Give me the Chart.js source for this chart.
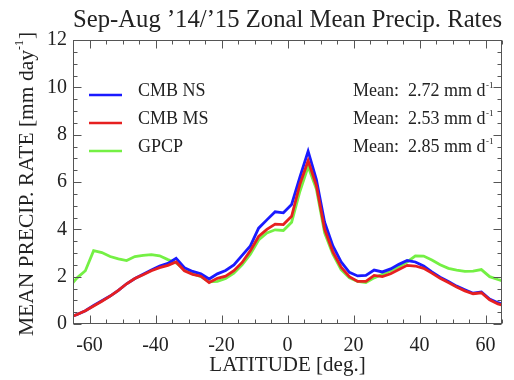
<!DOCTYPE html>
<html>
<head>
<meta charset="utf-8">
<script src="https://cdn.jsdelivr.net/npm/chart.js@4"></script>
<style>
html,body{margin:0;padding:0;background:#fff;}
#wrap{width:514px;height:380px;}
</style>
</head>
<body>
<div id="wrap"><canvas id="c" width="514" height="380"></canvas></div>
<script>
// ---- data ----
const latitudes = [-66.25,-63.75,-61.25,-58.75,-56.25,-53.75,-51.25,-48.75,-46.25,-43.75,-41.25,-38.75,-36.25,-33.75,-31.25,-28.75,-26.25,-23.75,-21.25,-18.75,-16.25,-13.75,-11.25,-8.75,-6.25,-3.75,-1.25,1.25,3.75,6.25,8.75,11.25,13.75,16.25,18.75,21.25,23.75,26.25,28.75,31.25,33.75,36.25,38.75,41.25,43.75,46.25,48.75,51.25,53.75,56.25,58.75,61.25,63.75,66.25];
const cmbNS = [0.28,0.40,0.56,0.78,0.98,1.18,1.42,1.70,1.92,2.10,2.28,2.45,2.56,2.78,2.38,2.22,2.12,1.90,2.12,2.26,2.50,2.90,3.30,4.05,4.40,4.74,4.70,5.05,6.20,7.30,6.10,4.30,3.30,2.62,2.18,2.03,2.05,2.28,2.20,2.33,2.52,2.68,2.62,2.45,2.20,1.98,1.80,1.60,1.45,1.30,1.35,1.05,0.90,0.80];
const cmbMS = [0.28,0.40,0.56,0.76,0.96,1.18,1.42,1.70,1.92,2.08,2.25,2.38,2.48,2.62,2.25,2.10,2.02,1.75,1.93,2.02,2.25,2.60,3.10,3.70,4.00,4.22,4.20,4.55,5.90,6.90,5.85,4.00,3.05,2.40,2.00,1.80,1.80,2.05,2.00,2.12,2.30,2.48,2.45,2.35,2.15,1.93,1.75,1.56,1.40,1.28,1.32,1.02,0.85,0.75];
const gpcp = [1.55,1.95,2.25,3.10,3.02,2.85,2.75,2.68,2.85,2.90,2.93,2.88,2.72,2.58,2.30,2.12,2.00,1.78,1.80,1.92,2.15,2.50,2.95,3.55,3.85,3.98,3.95,4.30,5.60,6.65,5.70,3.85,2.95,2.30,1.95,1.80,1.75,1.95,2.10,2.25,2.42,2.62,2.88,2.87,2.70,2.50,2.35,2.28,2.22,2.23,2.30,2.00,1.88,1.78];
const seriesNames = ['CMB NS','CMB MS','GPCP'];
const seriesMeans = ['2.72','2.53','2.85'];
const xTicks = [-60,-40,-20,0,20,40,60];
const yTicks = [0,2,4,6,8,10,12];
const titleText = 'Sep-Aug \u201914/\u201915 Zonal Mean Precip. Rates';
const xTitle = 'LATITUDE [deg.]';
const yTitle = 'MEAN PRECIP. RATE [mm day';

const FONT = '"Liberation Serif","Times New Roman",serif';
const colors = ['#1a1aff','#e62020','#74f044'];
const TXT = '#222';

function pts(arr){ return latitudes.map((x,i)=>({x:x,y:arr[i]})); }

const framePlugin = {
  id:'frame',
  afterDraw(chart){
    const {ctx, chartArea:a, scales:{x,y}} = chart;
    ctx.save();
    ctx.strokeStyle = '#555';
    ctx.lineWidth = 1;
    const L = Math.round(a.left)+0.5, R = Math.round(a.right)-0.5, T = Math.round(a.top)+0.5, B = Math.round(a.bottom)-0.5;
    ctx.strokeRect(L, T, R-L, B-T);
    ctx.beginPath();
    for(let v=-65; v<=65; v+=5){
      const px = Math.round(x.getPixelForValue(v))+0.5;
      const len = (v%20===0)?8:4;
      ctx.moveTo(px,B); ctx.lineTo(px,B-len);
      ctx.moveTo(px,T); ctx.lineTo(px,T+len);
    }
    for(let v=0; v<=12; v+=0.5){
      const py = Math.round(y.getPixelForValue(v))+0.5;
      const len = (v%2===0)?8:4;
      ctx.moveTo(L,py); ctx.lineTo(L+len,py);
      ctx.moveTo(R,py); ctx.lineTo(R-len,py);
    }
    ctx.stroke();

    // legend + means
    ctx.fillStyle = TXT;
    ctx.textBaseline = 'alphabetic';
    const baselines = [96,124,152];
    for(let i=0;i<3;i++){
      const b = baselines[i];
      ctx.strokeStyle = colors[i];
      ctx.lineWidth = 2.5;
      ctx.beginPath(); ctx.moveTo(89,b-1); ctx.lineTo(122,b-1); ctx.stroke();
      ctx.font = '18px ' + FONT;
      ctx.textAlign = 'left';
      ctx.fillText(seriesNames[i], 138, b);
      let s = 'Mean:  ' + seriesMeans[i] + ' mm d';
      ctx.fillText(s, 353, b);
      const w = ctx.measureText(s).width;
      ctx.font = '9px ' + FONT;
      ctx.fillText('-1', 353 + w + 0.5, b - 8);
    }

    // y title rotated
    ctx.save();
    ctx.translate(33, 184);
    ctx.rotate(-Math.PI/2);
    ctx.font = '21.5px ' + FONT;
    const w1 = ctx.measureText(yTitle).width;
    ctx.font = '12px ' + FONT;
    const w2 = ctx.measureText('-1').width;
    ctx.font = '21.5px ' + FONT;
    const w3 = ctx.measureText(']').width;
    const tot = w1 + w2 + w3 + 1;
    let sx = -tot/2;
    ctx.textAlign = 'left';
    ctx.fillStyle = TXT;
    ctx.fillText(yTitle, sx, 0);
    ctx.font = '12px ' + FONT;
    ctx.fillText('-1', sx + w1, -10);
    ctx.font = '21.5px ' + FONT;
    ctx.fillText(']', sx + w1 + w2 + 1, 0);
    ctx.restore();
    ctx.restore();
  }
};

new Chart(document.getElementById('c'), {
  type:'line',
  data:{
    datasets:[
      {label:seriesNames[0], data:pts(cmbNS), borderColor:colors[0], borderWidth:2.8, pointRadius:0, tension:0, fill:false, order:1, clip:0},
      {label:seriesNames[1], data:pts(cmbMS), borderColor:colors[1], borderWidth:2.8, pointRadius:0, tension:0, fill:false, order:0, clip:0},
      {label:seriesNames[2], data:pts(gpcp), borderColor:colors[2], borderWidth:2.8, pointRadius:0, tension:0, fill:false, order:2, clip:0}
    ]
  },
  options:{
    responsive:false,
    animation:false,
    devicePixelRatio:1,
    layout:{padding:{left:0,right:12,top:0,bottom:0}},
    plugins:{
      legend:{display:false},
      tooltip:{enabled:false},
      title:{display:true, text:titleText, fullSize:false, color:TXT,
        font:{family:FONT, size:25.5, weight:'normal', lineHeight:1.2},
        padding:{top:5, bottom:4.4}}
    },
    scales:{
      x:{type:'linear', min:-65, max:65,
        grid:{display:false, drawTicks:false}, border:{display:false},
        afterBuildTicks(s){ s.ticks = xTicks.map(v=>({value:v})); },
        afterFit(s){ s.height = 56; },
        ticks:{color:TXT, padding:10, maxRotation:0, autoSkip:false, font:{family:FONT, size:20}},
        title:{display:true, text:xTitle, color:TXT, font:{family:FONT, size:21}, padding:{top:0,bottom:2}}
      },
      y:{type:'linear', min:0, max:12,
        grid:{display:false, drawTicks:false}, border:{display:false},
        afterBuildTicks(s){ s.ticks = yTicks.map(v=>({value:v})); },
        afterFit(s){ s.width = 73; },
        ticks:{color:TXT, padding:6, autoSkip:false, font:{family:FONT, size:20}}
      }
    }
  },
  plugins:[framePlugin]
});
</script>
</body>
</html>
